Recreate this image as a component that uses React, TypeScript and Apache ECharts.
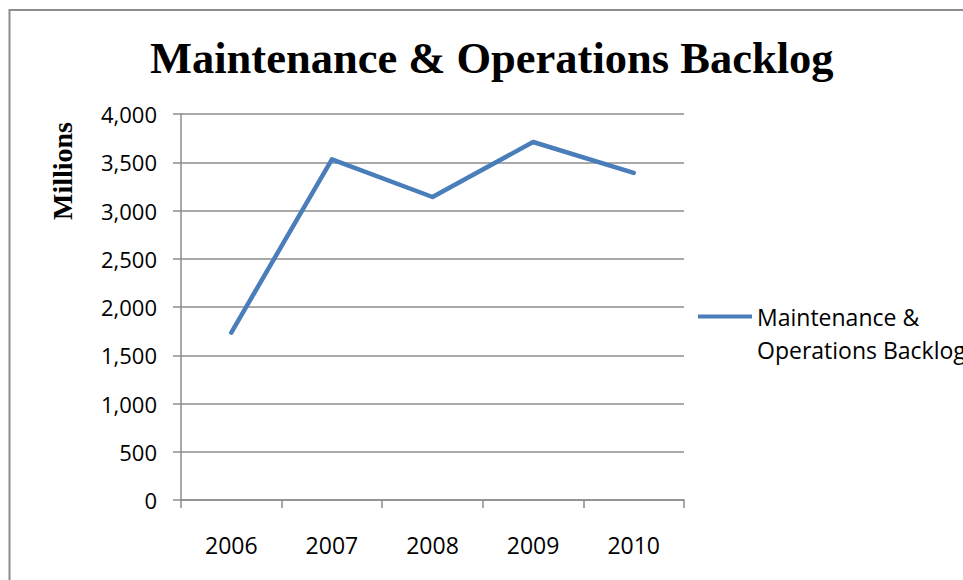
import React, { useEffect, useRef } from "react";
import * as echarts from "echarts";

const categories = ["2006", "2007", "2008", "2009", "2010"];
const backlogValues = [1735, 3530, 3140, 3710, 3390];
const seriesName = "Maintenance & Operations Backlog";
const chartTitle = "Maintenance & Operations Backlog";
const yAxisTitle = "Millions";
const yMin = 0;
const yMax = 4000;
const yInterval = 500;

export default function App() {
  const ref = useRef<HTMLDivElement>(null);
  useEffect(() => {
    if (!ref.current) return;
    const chart = echarts.init(ref.current, undefined, { renderer: "svg" });
    const gray = "#8c8c8c";
    const sans = "'Open Sans', 'Noto Sans', sans-serif";
    const serif = "'Liberation Serif', 'DejaVu Serif', serif";
    chart.setOption({
      animation: false,
      backgroundColor: "#ffffff",
      title: {
        text: chartTitle,
        left: 150,
        top: 35,
        padding: 0,
        textStyle: {
          fontFamily: serif,
          fontWeight: "bold",
          fontSize: 44.5,
          color: "#000000",
        },
      },
      legend: {
        left: 698,
        top: 267,
        padding: 0,
        icon: "rect",
        itemWidth: 54,
        itemHeight: 4,
        formatter: (name: string) => "\n" + name.replace(" & ", " &\n"),
        textStyle: {
          fontFamily: sans,
          fontSize: 23,
          lineHeight: 33,
          color: "#000000",
        },
        data: [seriesName],
      },
      grid: {
        left: 181,
        right: 279,
        top: 114,
        bottom: 80,
        containLabel: false,
      },
      xAxis: {
        type: "category",
        data: categories,
        boundaryGap: true,
        axisLine: { show: true, lineStyle: { color: gray, width: 1.5 } },
        axisTick: { show: true, length: 8, inside: false, lineStyle: { color: gray, width: 1.5 } },
        axisLabel: {
          margin: 33,
          fontFamily: sans,
          fontSize: 23,
          color: "#000000",
        },
        splitLine: { show: false },
      },
      yAxis: {
        type: "value",
        min: yMin,
        max: yMax,
        interval: yInterval,
        axisLine: { show: true, lineStyle: { color: gray, width: 1.5 } },
        axisTick: { show: true, length: 8, inside: false, lineStyle: { color: gray, width: 1.5 } },
        axisLabel: {
          margin: 24,
          fontFamily: sans,
          fontSize: 22,
          color: "#000000",
          formatter: (v: number) => v.toLocaleString("en-US"),
        },
        splitLine: { show: true, lineStyle: { color: gray, width: 1.5 } },
      },
      graphic: [
        {
          type: "rect",
          shape: { x: 9.5, y: 10, width: 1200, height: 1200 },
          style: { fill: "none", stroke: gray, lineWidth: 2 },
          silent: true,
        },
        {
          type: "text",
          x: 62,
          y: 171,
          rotation: Math.PI / 2,
          style: {
            text: yAxisTitle,
            fontFamily: serif,
            fontWeight: "bold",
            fontSize: 28,
            fill: "#000000",
            align: "center",
            verticalAlign: "middle",
          },
        },
      ],
      series: [
        {
          name: seriesName,
          type: "line",
          data: backlogValues,
          symbol: "none",
          showSymbol: false,
          color: "#4A7EBB",
          lineStyle: { color: "#4A7EBB", width: 4.5, cap: "round", join: "round" },
        },
      ],
    });
    return () => chart.dispose();
  }, []);
  return (
    <div
      ref={ref}
      style={{ position: "absolute", left: 0, top: 0, width: 963, height: 580 }}
    />
  );
}
